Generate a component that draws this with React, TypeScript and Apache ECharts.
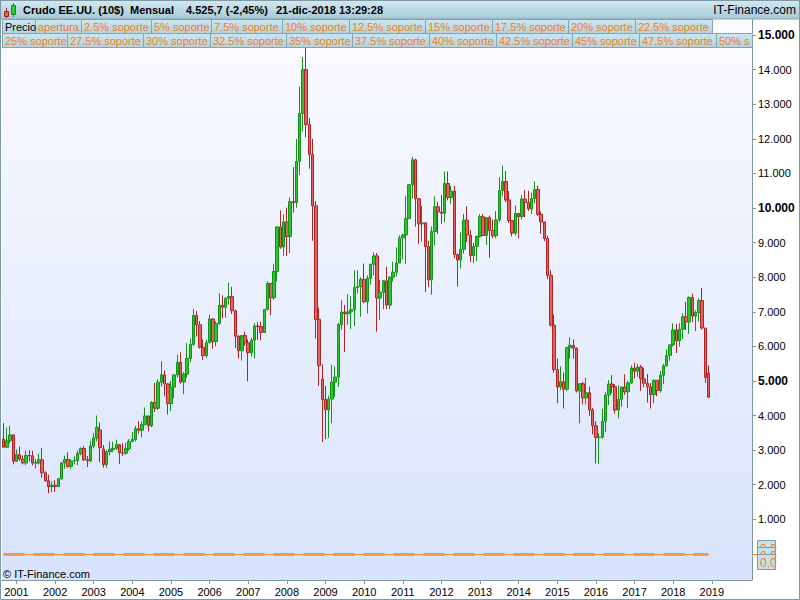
import React, { useEffect, useRef } from "react";
import * as echarts from "echarts";

// Monthly candles, values in chart units (price x 100). Rows: [open, high, low, close]
const y2000 = [
  [3312, 3780, 3100, 3084], [3084, 3650, 3070, 3270], [3270, 3700, 3200, 3440], [3440, 3460, 2590, 2680],
];
const y2001 = [
  [2680, 3020, 2660, 2866], [2866, 3100, 2690, 2739], [2739, 2840, 2590, 2629], [2629, 2980, 2570, 2846],
  [2846, 3000, 2670, 2837], [2837, 2980, 2560, 2625], [2625, 2740, 2470, 2635], [2635, 2890, 2590, 2720],
  [2720, 3060, 2200, 2343], [2343, 2390, 2080, 2118], [2118, 2290, 1750, 1944], [1944, 2100, 1780, 1984],
];
const y2002 = [
  [1984, 2130, 1790, 1948], [1948, 2190, 1930, 2174], [2174, 2650, 2140, 2631], [2631, 2840, 2460, 2729],
  [2729, 2940, 2490, 2531], [2531, 2730, 2450, 2686], [2686, 2820, 2590, 2702], [2702, 2990, 2560, 2898],
  [2898, 3080, 2850, 3045], [3045, 3120, 2680, 2722], [2722, 2830, 2510, 2689], [2689, 3270, 2650, 3120],
];
const y2003 = [
  [3120, 3500, 3050, 3351], [3351, 3999, 3250, 3660], [3580, 3800, 2650, 3070], [3030, 3150, 2490, 2580],
  [2580, 2990, 2490, 2956], [2956, 3250, 2850, 3019], [3019, 3240, 2940, 3054], [3054, 3300, 3000, 3157],
  [3157, 3180, 2600, 2920], [2920, 3200, 2830, 2911], [2911, 3200, 2860, 3041], [3041, 3320, 2980, 3252],
];
const y2004 = [
  [3252, 3520, 3220, 3305], [3305, 3700, 3250, 3616], [3616, 3840, 3480, 3576], [3576, 3830, 3370, 3738],
  [3738, 4230, 3730, 3988], [3988, 4000, 3540, 3705], [3705, 4420, 3660, 4380], [4380, 4940, 4100, 4212],
  [4212, 5050, 4160, 4964], [4964, 5567, 4840, 5176], [5176, 5300, 4560, 4913], [4913, 4940, 4030, 4345],
];
const y2005 = [
  [4345, 5000, 4125, 4820], [4820, 5200, 4500, 5175], [5175, 5760, 5100, 5540], [5540, 5830, 4920, 4972],
  [4972, 5260, 4620, 5197], [5197, 6095, 5090, 5650], [5650, 6230, 5540, 6057], [6057, 7085, 6020, 6894],
  [6894, 7020, 6280, 6624], [6624, 6730, 5940, 5976], [5976, 6200, 5600, 5732], [5732, 6190, 5670, 6104],
];
const y2006 = [
  [6104, 6920, 6100, 6792], [6792, 6820, 5930, 6141], [6141, 6720, 6000, 6663], [6663, 7535, 6630, 7188],
  [7188, 7475, 6810, 7129], [7129, 7415, 6830, 7393], [7393, 7840, 7200, 7440], [7440, 7720, 6940, 7026],
  [7026, 7060, 5950, 6291], [6291, 6330, 5650, 5873], [5873, 6250, 5590, 6313], [6313, 6420, 6020, 6105],
];
const y2007 = [
  [6105, 6200, 4990, 5814], [5814, 6250, 5710, 6179], [6179, 6670, 5650, 6587], [6587, 6700, 6190, 6571],
  [6571, 6710, 6170, 6401], [6401, 7070, 6390, 7068], [7068, 7877, 7040, 7821], [7821, 7830, 6900, 7404],
  [7404, 8390, 7350, 8166], [8166, 9474, 7880, 9453], [9453, 9929, 8820, 8871], [8871, 9820, 8620, 9598],
];
const y2008 = [
  [9598, 10009, 8611, 9175], [9175, 10305, 8690, 10184], [10184, 11180, 9865, 10158], [10158, 11993, 10008, 11346],
  [11346, 13509, 10952, 12735], [12735, 14367, 12217, 14000], [14000, 14727, 12042, 12408], [12408, 12600, 11134, 11546],
  [11546, 12000, 9051, 10064], [10064, 10200, 6227, 6781], [6781, 7113, 4860, 5443], [5050, 5480, 3240, 4460],
];
const y2009 = [
  [4460, 4858, 3320, 4168], [4168, 4575, 3355, 4476], [4476, 5466, 3781, 4966], [4966, 5420, 4538, 5112],
  [5112, 6680, 4826, 6631], [6631, 7338, 6482, 6989], [6989, 7200, 5832, 6945], [6945, 7500, 6621, 6996],
  [6996, 7450, 6505, 7061], [7061, 8200, 6590, 7700], [7700, 8200, 7526, 7728], [7728, 8000, 6859, 7936],
];
const y2010 = [
  [7936, 8395, 7243, 7289], [7289, 8051, 6950, 7966], [7966, 8385, 7784, 8376], [8376, 8715, 8053, 8615],
  [8615, 8700, 6424, 7397], [7397, 7917, 6767, 7563], [7563, 7920, 7076, 7895], [7895, 8297, 7076, 7192],
  [7192, 8030, 7076, 7997], [7997, 8443, 7870, 8143], [8143, 8863, 8020, 8411], [8411, 9206, 8400, 9138],
];
const y2011 = [
  [9138, 9258, 8511, 9219], [9219, 10341, 8385, 9697], [9697, 10695, 9675, 10672], [10672, 11483, 10281, 11393],
  [11393, 11425, 9463, 10270], [10270, 10284, 8961, 9542], [9542, 10062, 9027, 9570], [9570, 9588, 7571, 8881],
  [8881, 9052, 7711, 7920], [7920, 9465, 7495, 9319], [9319, 10337, 8917, 10036], [10036, 10177, 9252, 9883],
];
const y2012 = [
  [9883, 10374, 9544, 9848], [9848, 11055, 9587, 10707], [10707, 11055, 10221, 10302], [10302, 10643, 10118, 10487],
  [10487, 10638, 8550, 8653], [8653, 8689, 7728, 8496], [8496, 9294, 8253, 8806], [8806, 9829, 8679, 9647],
  [9647, 10042, 9015, 9219], [9219, 9359, 8434, 8624], [8624, 8996, 8405, 8891], [8891, 9130, 8460, 9182],
];
const y2013 = [
  [9182, 9824, 9145, 9749], [9749, 9824, 9202, 9205], [9205, 9735, 8933, 9723], [9723, 9780, 8561, 9346],
  [9346, 9666, 9127, 9197], [9197, 9907, 9127, 9656], [9656, 10893, 9600, 10503], [10503, 11224, 10350, 10765],
  [10765, 11066, 10168, 10233], [10233, 10490, 9568, 9638], [9638, 9650, 9177, 9272], [9272, 10075, 9200, 9842],
];
const y2014 = [
  [9842, 9860, 9124, 9749], [9749, 10378, 9664, 10259], [10259, 10522, 9737, 10158], [10158, 10499, 9916, 9974],
  [9974, 10447, 9824, 10271], [10271, 10768, 10130, 10537], [10537, 10640, 9770, 9817], [9817, 9900, 9250, 9596],
  [9596, 9599, 9043, 9116], [9116, 9200, 7944, 8054], [8054, 8200, 6569, 6615], [6615, 6922, 5244, 5327],
];
const y2015 = [
  [5327, 5650, 4358, 4824], [4824, 5424, 4736, 4976], [4976, 5248, 4203, 4760], [4760, 5990, 4705, 5963],
  [5963, 6258, 5651, 6030], [6030, 6199, 5650, 5947], [5947, 5969, 4668, 4712], [4712, 4940, 3775, 4920],
  [4920, 4980, 4321, 4509], [4509, 5092, 4322, 4659], [4659, 4836, 3993, 4165], [4165, 4218, 3453, 3704],
];
const y2016 = [
  [3704, 3839, 2619, 3362], [3362, 3482, 2605, 3375], [3375, 4190, 3328, 3834], [3834, 4678, 3524, 4592],
  [4592, 5021, 4303, 4910], [4910, 5167, 4651, 4833], [4833, 4904, 4057, 4160], [4160, 4875, 3919, 4470],
  [4470, 4834, 4254, 4824], [4824, 5193, 4595, 4686], [4686, 4994, 4220, 4944], [4944, 5451, 4920, 5372],
];
const y2017 = [
  [5372, 5524, 5071, 5281], [5281, 5494, 5122, 5401], [5401, 5464, 4709, 5060], [5060, 5376, 4818, 4933],
  [4933, 5200, 4376, 4832], [4832, 4942, 4205, 4604], [4604, 5043, 4357, 5017], [5017, 5022, 4558, 4723],
  [4723, 5286, 4665, 5167], [5167, 5490, 4910, 5438], [5438, 5905, 5420, 5740], [5740, 6051, 5582, 6042],
];
const y2018 = [
  [6042, 6666, 5995, 6473], [6473, 6645, 5807, 6164], [6164, 6666, 5995, 6494], [6494, 6956, 6206, 6857],
  [6857, 7290, 6473, 6704], [6704, 7446, 6359, 7415], [7415, 7527, 6703, 6876], [6876, 7041, 6443, 6980],
  [6980, 7385, 6711, 7325], [7325, 7690, 6486, 6531], [6531, 6531, 4941, 5093], [5230, 5455, 4526, 4526],
];

const yearlyRows = [y2000, y2001, y2002, y2003, y2004, y2005, y2006, y2007, y2008, y2009,
  y2010, y2011, y2012, y2013, y2014, y2015, y2016, y2017, y2018];

// x axis: monthly slots from Sep 2000 to Jan 2020 (empty space after last candle)
const FIRST_YEAR = 2000;
const FIRST_MONTH = 9;
const SLOT_COUNT = 233;
const yearTickLabels = ["2001", "2002", "2003", "2004", "2005", "2006", "2007", "2008", "2009", "2010",
  "2011", "2012", "2013", "2014", "2015", "2016", "2017", "2018", "2019"];

// support levels (all read as 0,0)
const supportLevel = 0;
const supportBoxLabels = ["0,0", "0,0", "0,0"];

const titleParts = ["Crudo EE.UU. (10$)", "Mensual", "4.525,7 (-2,45%)", "21-dic-2018 13:29:28"];
const siteLabel = "IT-Finance.com";
const copyrightLabel = "© IT-Finance.com";
const legendRow1 = ["Precio", "apertura", "2.5% soporte", "5% soporte", "7.5% soporte", "10% soporte",
  "12.5% soporte", "15% soporte", "17.5% soporte", "20% soporte", "22.5% soporte"];
const legendRow2 = ["25% soporte", "27.5% soporte", "30% soporte", "32.5% soporte", "35% soporte",
  "37.5% soporte", "40% soporte", "42.5% soporte", "45% soporte", "47.5% soporte", "50% soporte"];

// ---- layout constants ----
const FONT = "'Liberation Sans', Arial, sans-serif";
const titleX = [23, 130, 186, 276];
const row1Edges = [2, 35, 81, 151, 211, 282, 349, 425, 492, 568, 635, 712];
const row2Edges = [2, 67, 143, 210, 286, 352, 429, 496, 572, 639, 716, 752];
const PLOT_RIGHT = 752;
const ORANGE = "#f08024";

function buildCategories(): string[] {
  const out: string[] = [];
  for (let i = 0; i < SLOT_COUNT; i++) {
    const m = FIRST_MONTH - 1 + i;
    const yr = FIRST_YEAR + Math.floor(m / 12);
    const mo = (m % 12) + 1;
    out.push(`${yr}-${mo < 10 ? "0" + mo : mo}`);
  }
  return out;
}

function legendBoxes(labels: string[], edges: number[], y: number): any[] {
  const els: any[] = [];
  labels.forEach((label, i) => {
    const x0 = edges[i];
    const x1 = edges[i + 1];
    const clipped = x1 >= PLOT_RIGHT;
    els.push({
      type: "rect",
      z: 100,
      shape: { x: x0 + 0.5, y: y + 0.5, width: x1 - x0, height: 14 },
      style: {
        fill: new echarts.graphic.LinearGradient(0, 0, 0, 1, [
          { offset: 0, color: "#cfe5ee" },
          { offset: 1, color: "#b2d2de" },
        ]),
        stroke: "#86a4b0",
        lineWidth: 1,
      },
    });
    const style: any = {
      text: label,
      fill: label === "Precio" ? "#000000" : ORANGE,
      font: `11px ${FONT}`,
      verticalAlign: "middle",
    };
    if (clipped) {
      style.width = x1 - x0 + 1;
      style.overflow = "truncate";
      style.ellipsis = "";
    }
    els.push({ type: "text", z: 101, x: x0 + 3, y: y + 8, style });
  });
  return els;
}

export default function App() {
  const ref = useRef<HTMLDivElement>(null);

  useEffect(() => {
    if (!ref.current) return;
    const chart = echarts.init(ref.current, undefined, { renderer: "svg" });
    const categories = buildCategories();
    const rows = yearlyRows.flat();
    const candleData = rows.map((r) => [r[0], r[3], r[2], r[1]]);
    const lastCat = categories[rows.length - 1];
    const supportSegment = [[{ coord: [categories[0], supportLevel] }, { coord: [lastCat, supportLevel] }]];

    const isYearStart = (index: number, value: string) =>
      value.endsWith("-01") && yearTickLabels.includes(value.slice(0, 4));

    const graphic: any[] = [
      // title bar
      {
        type: "rect",
        z: 100,
        shape: { x: 0, y: 0, width: 800, height: 19 },
        style: {
          fill: new echarts.graphic.LinearGradient(0, 0, 0, 1, [
            { offset: 0, color: "#d4e9f1" },
            { offset: 1, color: "#a6c9d7" },
          ]),
          stroke: "#86a4b0",
          lineWidth: 1,
        },
      },
      // icon
      { type: "line", z: 101, shape: { x1: 6.5, y1: 8, x2: 6.5, y2: 18 }, style: { stroke: "#a02020", lineWidth: 1 } },
      { type: "rect", z: 102, shape: { x: 4.5, y: 11.5, width: 4, height: 5 }, style: { fill: "#e06060", stroke: "#a02020", lineWidth: 1 } },
      { type: "line", z: 101, shape: { x1: 13.5, y1: 3, x2: 13.5, y2: 17 }, style: { stroke: "#128f12", lineWidth: 1 } },
      { type: "rect", z: 102, shape: { x: 11.5, y: 5.5, width: 4, height: 9 }, style: { fill: "#2fcc2f", stroke: "#128f12", lineWidth: 1 } },
      ...titleParts.map((t, i) => ({
        type: "text",
        z: 101,
        x: titleX[i],
        y: 10,
        style: { text: t, fill: "#000", font: `bold 11px ${FONT}`, verticalAlign: "middle" },
      })),
      {
        type: "text",
        z: 101,
        x: 796,
        y: 10,
        style: { text: siteLabel, fill: "#000", font: `12px ${FONT}`, align: "right", verticalAlign: "middle" },
      },
      ...legendBoxes(legendRow1, row1Edges, 19),
      ...legendBoxes(legendRow2, row2Edges, 33),
      // copyright
      {
        type: "text",
        z: 101,
        x: 3,
        y: 574,
        style: { text: copyrightLabel, fill: "#000", font: `11px ${FONT}`, verticalAlign: "middle" },
      },
      // orange zero tick to the value boxes
      { type: "line", z: 101, shape: { x1: 752, y1: 554.5, x2: 758, y2: 554.5 }, style: { stroke: ORANGE, lineWidth: 1 } },
      ...supportBoxLabels.flatMap((t, i) => [
        {
          type: "rect",
          z: 110 + i * 2,
          shape: { x: 757.5, y: 540.5 + i * 7, width: 18, height: 15 },
          style: { fill: "#c9e0ea", stroke: "#7f9aa6", lineWidth: 1 },
        },
        {
          type: "text",
          z: 111 + i * 2,
          x: 760,
          y: 548.5 + i * 7,
          style: { text: t, fill: ORANGE, font: `12px ${FONT}`, verticalAlign: "middle" },
        },
      ]),
      // outer frame
      {
        type: "rect",
        z: 120,
        shape: { x: 0.5, y: 0.5, width: 799, height: 599 },
        style: { fill: "none", stroke: "#7f98a4", lineWidth: 1 },
      },
    ];

    chart.setOption({
      animation: false,
      backgroundColor: "#ffffff",
      textStyle: { fontFamily: FONT },
      grid: {
        left: 2,
        right: 48,
        top: 18,
        bottom: 20,
        show: true,
        borderWidth: 0,
        backgroundColor: new echarts.graphic.LinearGradient(0, 0, 0, 1, [
          { offset: 0, color: "#fbfcff" },
          { offset: 1, color: "#d7e2fb" },
        ]),
      },
      xAxis: {
        type: "category",
        data: categories,
        boundaryGap: true,
        axisLine: { show: true, onZero: false, lineStyle: { color: "#7f98a4", width: 1 } },
        axisTick: { show: true, alignWithLabel: true, interval: isYearStart, length: 4, lineStyle: { color: "#7f98a4" } },
        axisLabel: {
          interval: isYearStart,
          formatter: (v: string) => v.slice(0, 4),
          color: "#000",
          fontSize: 11,
          fontFamily: FONT,
          margin: 6,
        },
        splitLine: { show: false },
      },
      yAxis: {
        type: "value",
        position: "right",
        min: -755,
        max: 15493,
        splitNumber: 16,
        minInterval: 1000,
        maxInterval: 1000,
        axisLine: { show: true, lineStyle: { color: "#7f98a4", width: 1 } },
        axisTick: { show: true, length: 4, lineStyle: { color: "#7f98a4" } },
        splitLine: { show: false },
        axisLabel: {
          color: "#000",
          fontSize: 11,
          fontFamily: FONT,
          margin: 6,
          showMinLabel: false,
          showMaxLabel: false,
          formatter: (v: number) => {
            if (v <= 0 || v % 1000 !== 0) return "";
            const s = `${v / 1000}.000`;
            return v % 5000 === 0 ? `{b|${s}}` : s;
          },
          rich: { b: { fontWeight: "bold", fontSize: 12, color: "#000", fontFamily: FONT } },
        },
      },
      series: [
        {
          name: "2.5% soporte",
          type: "line",
          data: [],
          z: 1,
          markLine: {
            silent: true,
            symbol: ["none", "none"],
            label: { show: false },
            lineStyle: { color: "#ef8a3c", width: 1, type: "solid", opacity: 1 },
            emphasis: { disabled: true },
            data: supportSegment,
          },
        },
        {
          name: "apertura",
          type: "line",
          data: [],
          z: 1,
          markLine: {
            silent: true,
            symbol: ["none", "none"],
            label: { show: false },
            lineStyle: { color: "#f29a55", width: 3, type: [21, 9], opacity: 1 },
            emphasis: { disabled: true },
            data: supportSegment,
          },
        },
        {
          name: "Precio",
          type: "candlestick",
          data: candleData,
          barWidth: 3,
          z: 3,
          itemStyle: {
            color: "#2cc42c",
            color0: "#e26262",
            borderColor: "#14921a",
            borderColor0: "#b02424",
            borderWidth: 1,
          },
        },
      ],
      graphic,
    });

    return () => chart.dispose();
  }, []);

  return (
    <div
      ref={ref}
      style={{ position: "absolute", left: 0, top: 0, width: 800, height: 600, background: "#fff" }}
    />
  );
}
